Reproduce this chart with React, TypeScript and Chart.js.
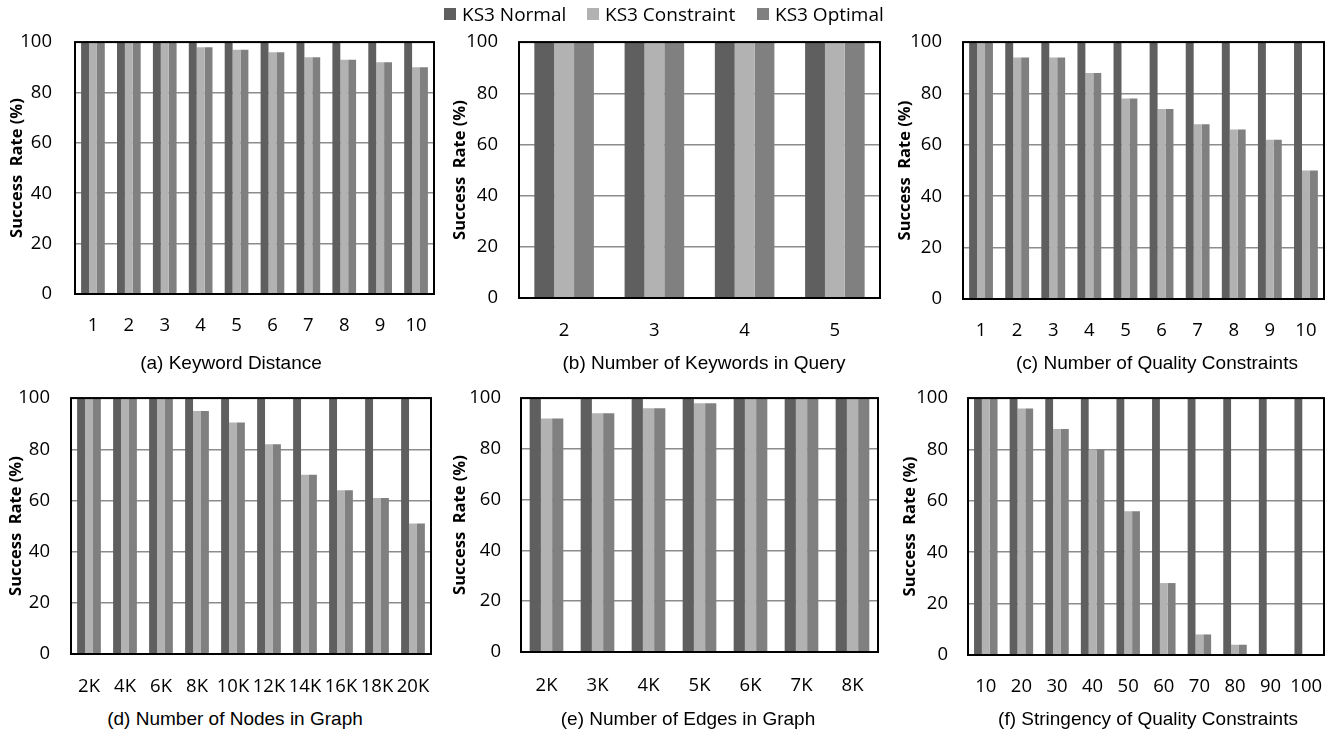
import React, { useEffect, useRef } from "react";
import { Chart, registerables } from "chart.js";

Chart.register(...registerables);

// ---------- data ----------
const seriesNames = ["KS3 Normal", "KS3 Constraint", "KS3 Optimal"];
const seriesColors = ["#5f5f5f", "#b2b2b2", "#808080"];

const catsA = ["1", "2", "3", "4", "5", "6", "7", "8", "9", "10"];
const normalA = [100, 100, 100, 100, 100, 100, 100, 100, 100, 100];
const constraintA = [100, 100, 100, 98, 97, 96, 94, 93, 92, 90];
const optimalA = [100, 100, 100, 98, 97, 96, 94, 93, 92, 90];

const catsB = ["2", "3", "4", "5"];
const normalB = [100, 100, 100, 100];
const constraintB = [100, 100, 100, 100];
const optimalB = [100, 100, 100, 100];

const catsC = ["1", "2", "3", "4", "5", "6", "7", "8", "9", "10"];
const normalC = [100, 100, 100, 100, 100, 100, 100, 100, 100, 100];
const constraintC = [100, 94, 94, 88, 78, 74, 68, 66, 62, 50];
const optimalC = [100, 94, 94, 88, 78, 74, 68, 66, 62, 50];

const catsD = ["2K", "4K", "6K", "8K", "10K", "12K", "14K", "16K", "18K", "20K"];
const normalD = [100, 100, 100, 100, 100, 100, 100, 100, 100, 100];
const constraintD = [100, 100, 100, 95, 90.5, 82, 70, 64, 61, 51];
const optimalD = [100, 100, 100, 95, 90.5, 82, 70, 64, 61, 51];

const catsE = ["2K", "3K", "4K", "5K", "6K", "7K", "8K"];
const normalE = [100, 100, 100, 100, 100, 100, 100];
const constraintE = [92, 94, 96, 98, 100, 100, 100];
const optimalE = [92, 94, 96, 98, 100, 100, 100];

const catsF = ["10", "20", "30", "40", "50", "60", "70", "80", "90", "100"];
const normalF = [100, 100, 100, 100, 100, 100, 100, 100, 100, 100];
const constraintF = [100, 96, 88, 80, 56, 28, 8, 4, 0, 0];
const optimalF = [100, 96, 88, 80, 56, 28, 8, 4, 0, 0];

const yTicks = [0, 20, 40, 60, 80, 100];
const yTitle = "Success  Rate (%)";

const captions = [
  "(a) Keyword Distance",
  "(b) Number of Keywords in Query",
  "(c) Number of Quality Constraints",
  "(d) Number of Nodes in Graph",
  "(e) Number of Edges in Graph",
  "(f) Stringency of Quality Constraints",
];

// ---------- layout (positions only) ----------
type Layout = {
  plotL: number; plotR: number; plotT: number; plotB: number;
  titleX: number; yPad: number; xPad: number; capX: number; capY: number;
};

const layouts: Layout[] = [
  { plotL: 75, plotR: 434, plotT: 42, plotB: 294, titleX: 17, yPad: 23, xPad: 21, capX: 231, capY: 363 },
  { plotL: 519, plotR: 880, plotT: 42, plotB: 298, titleX: 460, yPad: 21, xPad: 22, capX: 704, capY: 363 },
  { plotL: 963, plotR: 1324, plotT: 42, plotB: 299, titleX: 905, yPad: 21, xPad: 21, capX: 1157, capY: 363 },
  { plotL: 71, plotR: 431, plotT: 398, plotB: 654, titleX: 16, yPad: 21, xPad: 22, capX: 235, capY: 719 },
  { plotL: 521, plotR: 878, plotT: 398, plotB: 652, titleX: 460, yPad: 20, xPad: 23, capX: 688, capY: 719 },
  { plotL: 968, plotR: 1324, plotT: 398, plotB: 655, titleX: 910, yPad: 20, xPad: 21, capX: 1148, capY: 719 },
];

const panels = [
  { cats: catsA, series: [normalA, constraintA, optimalA] },
  { cats: catsB, series: [normalB, constraintB, optimalB] },
  { cats: catsC, series: [normalC, constraintC, optimalC] },
  { cats: catsD, series: [normalD, constraintD, optimalD] },
  { cats: catsE, series: [normalE, constraintE, optimalE] },
  { cats: catsF, series: [normalF, constraintF, optimalF] },
];

const TICK_SIZE = 18.5;
const TICK_FONT = { family: "'Open Sans'", size: TICK_SIZE, lineHeight: 1.2 };
const TITLE_FONT = { family: "'Open Sans'", size: 16.5, weight: "bold" as const };
const RIGHT_PAD = 30;

const frameBox = {
  id: "frameBox",
  afterDatasetsDraw(chart: any) {
    const { ctx, chartArea } = chart;
    ctx.save();
    ctx.strokeStyle = "#000";
    ctx.lineWidth = 2;
    ctx.strokeRect(chartArea.left, chartArea.top, chartArea.right - chartArea.left, chartArea.bottom - chartArea.top);
    ctx.restore();
  },
};

function Panel({ idx }: { idx: number }) {
  const ref = useRef<HTMLCanvasElement | null>(null);
  const L = layouts[idx];
  const left = L.titleX - 12;
  const right = L.plotR + RIGHT_PAD;
  // y-axis reserves half a label line plus its tick padding above the plot
  const top = L.plotT - (TICK_SIZE * 1.2) / 2 - L.yPad;
  const bottom = L.plotB + L.xPad + 30;
  const w = Math.round(right - left);
  const h = Math.round(bottom - top);
  const topPx = Math.round(top);

  useEffect(() => {
    if (!ref.current) return;
    const p = panels[idx];
    const chart = new Chart(ref.current, {
      type: "bar",
      data: {
        labels: p.cats,
        datasets: p.series.map((d, i) => ({
          label: seriesNames[i],
          data: d,
          backgroundColor: seriesColors[i],
          borderWidth: 0,
          barPercentage: 1,
          categoryPercentage: 0.66,
        })),
      },
      options: {
        responsive: false,
        animation: false,
        layout: { padding: { left: 0, right: RIGHT_PAD, top: 0, bottom: 0 } },
        plugins: { legend: { display: false }, tooltip: { enabled: false } },
        scales: {
          x: {
            grid: { display: false, drawTicks: false },
            border: { display: false },
            ticks: {
              font: TICK_FONT,
              color: "#000",
              autoSkip: false,
              maxRotation: 0,
              minRotation: 0,
              padding: L.xPad,
            },
            afterFit: (s: any) => { s.height = topPx + h - L.plotB; },
          },
          y: {
            min: 0,
            max: 100,
            afterBuildTicks: (s: any) => { s.ticks = yTicks.map((v) => ({ value: v })); },
            grid: { color: "#8c8c8c", lineWidth: 1.5, drawTicks: false },
            border: { display: false },
            ticks: { font: TICK_FONT, color: "#000", padding: L.yPad },
            title: { display: true, text: yTitle, font: TITLE_FONT, color: "#000", padding: { top: 2.2, bottom: 0 } },
            afterFit: (s: any) => { s.width = L.plotL - left; },
          },
        },
      },
      plugins: [frameBox],
    } as any);
    return () => chart.destroy();
  }, [idx]);

  return (
    <canvas
      ref={ref}
      width={w}
      height={h}
      style={{ position: "absolute", left, top: topPx, width: w, height: h }}
    />
  );
}

const legendPos = [
  { sq: 444, tx: 462 },
  { sq: 587, tx: 605 },
  { sq: 757, tx: 775 },
];

export default function App() {
  useEffect(() => {
    document.body.style.margin = "0";
  }, []);
  return (
    <div style={{ position: "absolute", left: 0, top: 0, width: 1343, height: 735, background: "#fff", overflow: "hidden" }}>
      {panels.map((_, i) => (
        <Panel key={i} idx={i} />
      ))}
      {captions.map((c, i) => (
        <div
          key={c}
          style={{
            position: "absolute",
            left: layouts[i].capX,
            top: layouts[i].capY,
            transform: "translate(-50%, -50%)",
            whiteSpace: "nowrap",
            fontFamily: "'Liberation Sans', Arial, sans-serif",
            fontSize: 19,
            color: "#000",
            lineHeight: "22px",
          }}
        >
          {c}
        </div>
      ))}
      {seriesNames.map((n, i) => (
        <React.Fragment key={n}>
          <div
            style={{
              position: "absolute",
              left: legendPos[i].sq,
              top: 8,
              width: 12,
              height: 12,
              background: seriesColors[i],
            }}
          />
          <div
            style={{
              position: "absolute",
              left: legendPos[i].tx,
              top: 14,
              transform: "translateY(-50%)",
              whiteSpace: "nowrap",
              fontFamily: "'Open Sans', sans-serif",
              fontSize: 19,
              color: "#000",
              lineHeight: "24px",
            }}
          >
            {n}
          </div>
        </React.Fragment>
      ))}
    </div>
  );
}
